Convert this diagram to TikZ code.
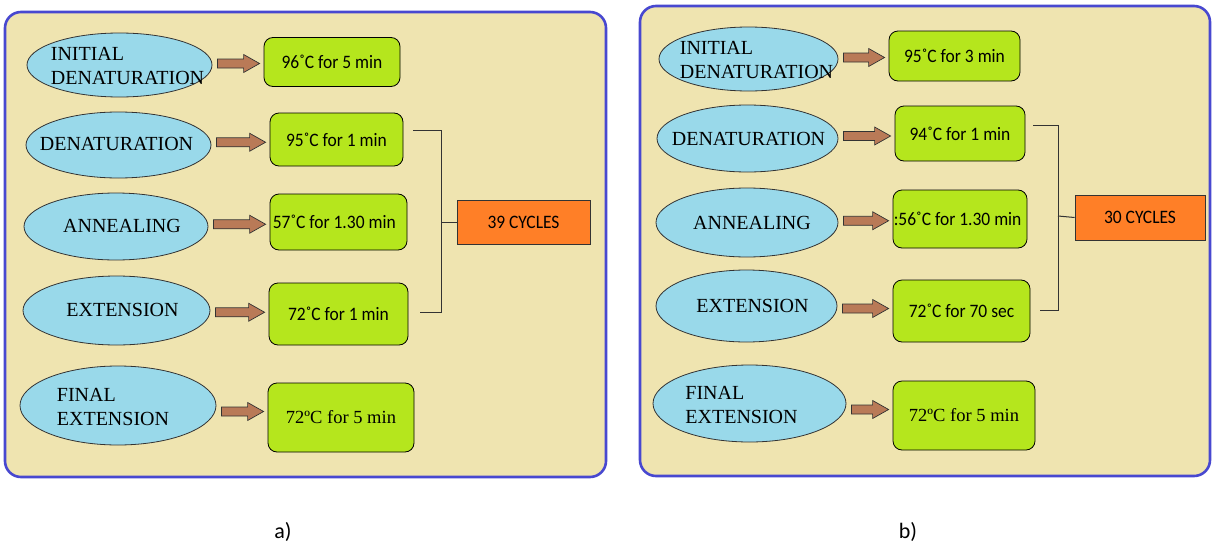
\documentclass[tikz,border=0pt]{standalone}
\usepackage{fontspec}
\setmainfont{Liberation Serif}
\newfontfamily\calfont[FakeStretch=0.92]{Carlito}
\newfontfamily\labfont{Carlito}
\usetikzlibrary{calc,shapes.geometric}
\definecolor{panelbg}{HTML}{EFE4B0}
\definecolor{panelbd}{HTML}{4848D0}
\definecolor{ellfill}{HTML}{99D9EA}
\definecolor{boxgreen}{HTML}{B5E61D}
\definecolor{boxorange}{HTML}{FF7F27}
\definecolor{arrbrown}{HTML}{B97A57}
\definecolor{darkline}{HTML}{333333}
\tikzset{
  panel/.style={draw=panelbd,line width=2.6pt,fill=panelbg,rounded corners=16pt},
  stage/.style={ellipse,draw=darkline,line width=0.8pt,fill=ellfill,inner sep=0pt},
  stagetext/.style={inner sep=0pt,font=\fontsize{20}{24}\selectfont,align=left},
  temp/.style={draw=black,line width=0.8pt,fill=boxgreen,rounded corners=9pt,inner sep=0pt,
    font=\calfont\fontsize{19}{20}\selectfont},
  tempser/.style={temp,font=\fontsize{18.5}{20}\selectfont},
  cyc/.style={draw=darkline,line width=0.9pt,fill=boxorange,inner sep=0pt,
    font=\calfont\fontsize{19}{20}\selectfont},
  arr/.style={draw=darkline,line width=0.7pt,fill=arrbrown},
  brk/.style={draw=darkline,line width=1pt},
  panellabel/.style={font=\labfont\fontsize{22}{24}\selectfont}
}
\newcommand\blockarrow[2]{%
  \filldraw[arr] let \p1=(#1.east), \p2=(#2.west), \p3=($(#1.east)!0.5!(#2.west)$) in
    (\x1+5pt,\y3+4.5pt) -- (\x2-20pt,\y3+4.5pt) -- (\x2-20pt,\y3+9pt) -- (\x2-4pt,\y3)
    -- (\x2-20pt,\y3-9pt) -- (\x2-20pt,\y3-4.5pt) -- (\x1+5pt,\y3-4.5pt) -- cycle;}
\begin{document}
\begin{tikzpicture}[x=1pt,y=-1pt]
\useasboundingbox[fill=white] (0,0) rectangle (1212,546);
% panels
\path[panel] (5,12) rectangle (606,477);
\path[panel] (640,6) rectangle (1210,476);
% ---------- panel a ----------
\node[stage,minimum width=185pt,minimum height=64pt] (a1) at (119.5,65) {};
\node[stage,minimum width=185pt,minimum height=66pt] (a2) at (118.5,145) {};
\node[stage,minimum width=184pt,minimum height=67pt] (a3) at (116,226.5) {};
\node[stage,minimum width=187pt,minimum height=69pt] (a4) at (116.5,310.5) {};
\node[stage,minimum width=196pt,minimum height=79pt] (a5) at (118,405.5) {};
\node[stagetext] (a1t) at ([xshift=8pt,yshift=-1pt]a1.center) {INITIAL\\DENATURATION};
\node[stagetext] (a2t) at ([xshift=-2pt,yshift=1pt]a2.center) {DENATURATION};
\node[stagetext] (a3t) at ([xshift=6pt,yshift=1pt]a3.center) {ANNEALING};
\node[stagetext] (a4t) at ([xshift=6pt,yshift=1pt]a4.center) {EXTENSION};
\node[stagetext] (a5t) at ([xshift=-5pt,yshift=-1pt]a5.center) {FINAL\\EXTENSION};
\node[temp,minimum width=136pt,minimum height=49pt] (ta1) at (332,62) {96˚C for 5 min};
\node[temp,minimum width=133pt,minimum height=53pt] (ta2) at (336.5,139.5) {95˚C for 1 min};
\node[temp,minimum width=137pt,minimum height=56pt] (ta3) at (338.5,222) {};
\node[anchor=west,font=\calfont\fontsize{19}{20}\selectfont,inner sep=0pt] (ta3t) at ([xshift=3pt]ta3.west) {57˚C for 1.30 min};
\node[temp,minimum width=139pt,minimum height=62pt] (ta4) at (338.5,314) {72˚C for 1 min};
\node[tempser,minimum width=146pt,minimum height=69pt] (ta5) at (341,417.5) {72ºC for 5 min};
\node[cyc,minimum width=133pt,minimum height=44pt] (ca) at (523.5,222) {39 CYCLES};
\foreach \i in {1,...,5}{\blockarrow{a\i}{ta\i}}
\coordinate (ba1) at (413,130);
\coordinate (ba2) at (441,312);
\coordinate (ba3) at (420,312);
\coordinate (bam) at (441,222);
\draw[brk] (ba1) -| (ba2) -- (ba3);
\draw[brk] (bam) -- (ca.west);
\node[panellabel] (la) at (283,532) {a)};
% ---------- panel b ----------
\node[stage,minimum width=179pt,minimum height=64pt] (b1) at (748.5,59) {};
\node[stage,minimum width=181pt,minimum height=67pt] (b2) at (747.5,138.5) {};
\node[stage,minimum width=182pt,minimum height=69pt] (b3) at (747,222.5) {};
\node[stage,minimum width=181pt,minimum height=72pt] (b4) at (746.5,306) {};
\node[stage,minimum width=193pt,minimum height=77pt] (b5) at (749.5,403.5) {};
\node[stagetext] (b1t) at ([xshift=8pt,yshift=-1pt]b1.center) {INITIAL\\DENATURATION};
\node[stagetext] (b2t) at ([xshift=1pt,yshift=0pt]b2.center) {DENATURATION};
\node[stagetext] (b3t) at ([xshift=5pt,yshift=0pt]b3.center) {ANNEALING};
\node[stagetext] (b4t) at ([xshift=6pt,yshift=0pt]b4.center) {EXTENSION};
\node[stagetext] (b5t) at ([xshift=-8pt,yshift=-1pt]b5.center) {FINAL\\EXTENSION};
\node[temp,minimum width=131pt,minimum height=50pt] (tb1) at (954.5,56) {95˚C for 3 min};
\node[temp,minimum width=130pt,minimum height=55pt] (tb2) at (960,133.5) {94˚C for 1 min};
\node[temp,minimum width=134pt,minimum height=58pt] (tb3) at (960,219) {};
\node[anchor=west,font=\calfont\fontsize{19}{20}\selectfont,inner sep=0pt] (tb3t) at ([xshift=1pt]tb3.west) {:56˚C for 1.30 min};
\node[temp,minimum width=137pt,minimum height=62pt] (tb4) at (961.5,311) {72˚C for 70 sec};
\node[tempser,minimum width=142pt,minimum height=69pt] (tb5) at (964,415.5) {72ºC for 5 min};
\node[cyc,minimum width=130pt,minimum height=45pt] (cb) at (1140,217.5) {30 CYCLES};
\foreach \i in {1,...,5}{\blockarrow{b\i}{tb\i}}
\coordinate (bb1) at (1033,125);
\coordinate (bb2) at (1058,310);
\coordinate (bb3) at (1040,310);
\coordinate (bbm) at (1058,216);
\draw[brk] (bb1) -| (bb2) -- (bb3);
\draw[brk] (bbm) -- (cb.west);
\node[panellabel] (lb) at (908,532) {b)};
\end{tikzpicture}
\end{document}
